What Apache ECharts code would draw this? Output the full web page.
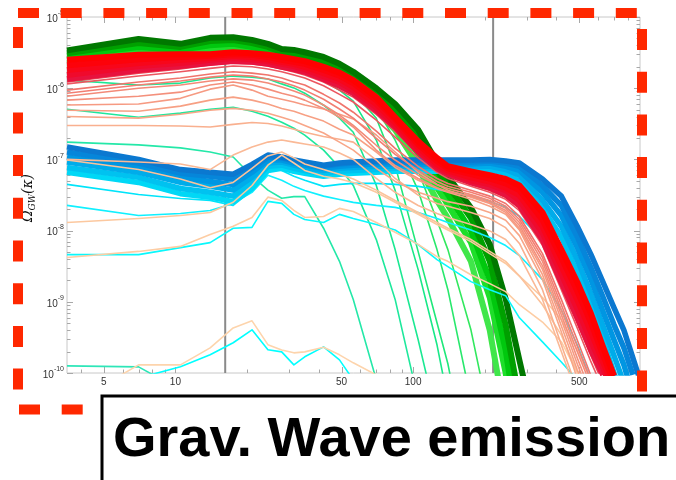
<!DOCTYPE html>
<html>
<head>
<meta charset="utf-8">
<script src="https://cdn.jsdelivr.net/npm/echarts@6/dist/echarts.min.js"></script>
<style>
  html, body { margin: 0; padding: 0; background: #fff; }
  #chart { width: 676px; height: 480px; }
</style>
</head>
<body>
<div id="chart"></div>
<script>
// Wavenumber grid shared by every spectrum
const K = [3.5, 7, 10.5, 14, 17.5, 21, 24.5, 28, 31.5, 35, 42, 49, 56, 70, 84, 105, 126, 140, 175, 210, 245, 280, 350, 420, 490, 560, 630, 700, 770, 840, 900];

// Axis ranges and ticks
const X_MIN = 3.5, X_MAX = 900, Y_MIN = 1e-10, Y_MAX = 1e-5;
const xMajorTicks = [5, 10, 50, 100, 500];
const xTickLabels = ['5', '10', '50', '100', '500'];
const xMinorTicks = [4, 6, 7, 8, 9, 20, 30, 40, 60, 70, 80, 90, 200, 300, 400, 600, 700, 800];
const yMajorTicks = [1e-10, 1e-9, 1e-8, 1e-7, 1e-6, 1e-5];
const yTickExponents = ['-10', '-9', '-8', '-7', '-6', '-5'];
const yMinorMantissas = [2, 3, 4, 5, 6, 7, 8, 9];
const markerK = [16.2, 217];

// Field A (green family): early spectra
const g1 = [1.26e-10, 1.22e-10, 5.8e-11];
const g2 = [1.75e-7, 1.6e-7, 1.45e-7, 1.27e-7, 1.08e-7, 5.8e-8, 3.7e-8, 2.85e-8, 3.0e-8, 3.0e-8, 1.08e-8, 3.7e-9, 1.08e-9, 8e-11];
const gA = [5.07e-7, 3.91e-7, 4.46e-7, 5.07e-7, 5.41e-7, 4.75e-7, 4.04e-7, 3.33e-7, 2.74e-7, 2.19e-7, 1.35e-7, 7.72e-8, 4.31e-8, 7.48e-9, 1.08e-9, 4.2e-11];
const gB = [1.3e-6, 1.11e-6, 1.18e-6, 1.39e-6, 1.48e-6, 1.43e-6, 1.35e-6, 1.15e-6, 1.01e-6, 8.51e-7, 5.77e-7, 3.79e-7, 2.41e-7, 4.31e-8, 5.41e-9, 2.93e-10, 2.2e-11];
const gC = [1.8e-6, 2.05e-6, 2.19e-6, 2.49e-6, 2.66e-6, 2.57e-6, 2.41e-6, 2.12e-6, 1.92e-6, 1.69e-6, 1.3e-6, 9.37e-7, 6.57e-7, 1.87e-7, 3.67e-8, 2.83e-9, 2.49e-10, 4.2e-11];
const gD = [1.69e-6, 2.19e-6, 2.33e-6, 2.66e-6, 2.83e-6, 2.74e-6, 2.66e-6, 2.33e-6, 2.19e-6, 1.98e-6, 1.58e-6, 1.22e-6, 8.79e-7, 3.79e-7, 8.24e-8, 5.07e-9, 5.07e-10, 1.35e-10, 3.1e-12];
const gE = [1.92e-6, 2.49e-6, 2.66e-6, 3.02e-6, 3.22e-6, 3.02e-6, 2.83e-6, 2.49e-6, 2.33e-6, 2.19e-6, 1.8e-6, 1.43e-6, 1.08e-6, 5.24e-7, 1.87e-7, 3.67e-8, 5.41e-9, 1.48e-9, 4.2e-11];
const gF = [2.05e-6, 2.66e-6, 2.83e-6, 3.22e-6, 3.44e-6, 3.22e-6, 3.02e-6, 2.74e-6, 2.57e-6, 2.41e-6, 2.05e-6, 1.69e-6, 1.3e-6, 6.78e-7, 3.02e-7, 7.01e-8, 1.39e-8, 5.41e-9, 4.04e-10, 2.2e-11];
// Field A: late spectra (saturated band)
const GB5 = [2.25e-6, 2.9e-6, 2.75e-6, 3.1e-6, 3.2e-6, 2.9e-6, 2.55e-6, 2.2e-6, 2.05e-6, 1.9e-6, 1.6e-6, 1.2e-6, 8.8e-7, 4.9e-7, 2.6e-7, 8.2e-8, 2.65e-8, 1.5e-8, 3.7e-9, 4.0e-10, 2.2e-11];
const GB4 = [2.55e-6, 3.3e-6, 3.1e-6, 3.55e-6, 3.65e-6, 3.3e-6, 2.9e-6, 2.5e-6, 2.35e-6, 2.2e-6, 1.85e-6, 1.45e-6, 1.1e-6, 6.2e-7, 3.3e-7, 1.2e-7, 4.0e-8, 2.3e-8, 6.8e-9, 1.15e-9, 1.0e-10, 4.4e-12];
const GB3 = [2.85e-6, 3.8e-6, 3.45e-6, 4.0e-6, 4.2e-6, 3.8e-6, 3.3e-6, 2.85e-6, 2.65e-6, 2.5e-6, 2.1e-6, 1.7e-6, 1.2e-6, 7.2e-7, 4.0e-7, 1.55e-7, 5.4e-8, 3.2e-8, 1.0e-8, 2.05e-9, 2.1e-10, 1.15e-11];
const GB2 = [3.1e-6, 4.3e-6, 3.8e-6, 4.6e-6, 4.75e-6, 4.3e-6, 3.8e-6, 3.2e-6, 3.0e-6, 2.85e-6, 2.4e-6, 1.9e-6, 1.45e-6, 8.5e-7, 4.9e-7, 2.0e-7, 7.0e-8, 4.3e-8, 1.5e-8, 3.7e-9, 4.7e-10, 4.2e-11];
const GB1 = [3.4e-6, 4.9e-6, 4.2e-6, 5.1e-6, 5.2e-6, 4.75e-6, 4.2e-6, 3.55e-6, 3.45e-6, 3.2e-6, 2.75e-6, 2.2e-6, 1.7e-6, 1.0e-6, 6.0e-7, 2.6e-7, 9.1e-8, 5.8e-8, 2.1e-8, 6.4e-9, 1.1e-9, 1.5e-10, 6e-12];

// Field B (blue family): early spectra
const c3 = [3e-11, 8.5e-11, 1.22e-10, 1.8e-10, 2.66e-10, 4.04e-10, 2.12e-10, 1.98e-10, 1.3e-10, 1.69e-10, 2.33e-10, 1.53e-10, 8.0e-11];
const c2 = [4.6e-9, 4.6e-9, 5.77e-9, 6.78e-9, 1.08e-8, 1.11e-8, 2.57e-8, 2.41e-8, 1.69e-8, 1.43e-8, 1.3e-8, 1.69e-8, 1.48e-8, 1.22e-8, 1.02e-8, 6.36e-9, 3.91e-9, 3.12e-9, 1.92e-9, 1.48e-9, 1.22e-9, 5.96e-10, 2.74e-10, 1.43e-10, 8.0e-11];
const c1 = [2.26e-8, 1.63e-8, 1.74e-8, 1.92e-8, 2.41e-8, 3.44e-8, 6.0e-8, 5.1e-8, 4.18e-8, 3.67e-8, 3.05e-8, 2.74e-8, 2.49e-8, 2.26e-8, 2.12e-8, 1.8e-8, 1.48e-8, 1.3e-8, 1.02e-8, 7.98e-9, 6.16e-9, 4.46e-9, 2.05e-9, 7.72e-10, 2.49e-10, 8.0e-11];
const c4 = [4.46e-8, 3.22e-8, 2.83e-8, 2.66e-8, 2.26e-8, 3.67e-8, 7.5e-8, 7.0e-8, 5.8e-8, 5.1e-8, 4.18e-8, 4.46e-8, 4.6e-8, 4.6e-8, 4.46e-8, 4.18e-8, 3.79e-8, 3.55e-8, 3.05e-8, 2.57e-8, 2.12e-8, 1.58e-8, 7.48e-9, 3.02e-9, 1.08e-9, 3.44e-10, 1.0e-10, 4.2e-11];
// Field B: late spectra (plateau band)
const BB6 = [6.6e-8, 4.75e-8, 3.3e-8, 2.95e-8, 2.55e-8, 3.9e-8, 7.0e-8, 7.5e-8, 6.8e-8, 6.4e-8, 5.8e-8, 6.2e-8, 6.4e-8, 6.6e-8, 6.8e-8, 6.8e-8, 6.8e-8, 6.8e-8, 6.6e-8, 6.2e-8, 5.1e-8, 3.7e-8, 1.4e-8, 5.1e-9, 1.5e-9, 6.0e-10, 2.1e-10, 8.0e-11];
const BB5 = [7.7e-8, 5.6e-8, 3.9e-8, 3.45e-8, 3.05e-8, 4.75e-8, 8.0e-8, 8.3e-8, 7.5e-8, 7.0e-8, 6.4e-8, 6.8e-8, 7.0e-8, 7.2e-8, 7.5e-8, 7.5e-8, 7.5e-8, 7.5e-8, 7.5e-8, 7.2e-8, 6.4e-8, 4.9e-8, 2.05e-8, 8.2e-9, 2.6e-9, 8.5e-10, 2.9e-10, 1.0e-10, 4.0e-11];
const BB4 = [9.2e-8, 6.6e-8, 4.75e-8, 4.2e-8, 3.7e-8, 5.6e-8, 8.9e-8, 9.2e-8, 8.3e-8, 7.7e-8, 7.0e-8, 7.5e-8, 7.7e-8, 8.0e-8, 8.0e-8, 8.0e-8, 8.0e-8, 8.0e-8, 8.0e-8, 8.0e-8, 7.2e-8, 6.0e-8, 2.65e-8, 1.15e-8, 3.9e-9, 1.3e-9, 4.5e-10, 1.75e-10, 7.2e-11];
const BB3 = [1.08e-7, 7.7e-8, 5.6e-8, 4.9e-8, 4.45e-8, 6.6e-8, 9.8e-8, 9.8e-8, 8.9e-8, 8.3e-8, 7.5e-8, 8.0e-8, 8.3e-8, 8.6e-8, 8.6e-8, 8.6e-8, 8.6e-8, 8.6e-8, 8.6e-8, 8.9e-8, 8.0e-8, 7.0e-8, 3.45e-8, 1.63e-8, 5.8e-9, 2.05e-9, 7.2e-10, 2.9e-10, 1.3e-10, 4.9e-11];
const BB2 = [1.27e-7, 8.9e-8, 6.4e-8, 5.8e-8, 5.3e-8, 7.5e-8, 1.08e-7, 1.05e-7, 9.5e-8, 8.9e-8, 8.0e-8, 8.6e-8, 8.9e-8, 9.2e-8, 9.2e-8, 9.2e-8, 9.2e-8, 9.2e-8, 9.2e-8, 9.5e-8, 8.9e-8, 8.0e-8, 4.3e-8, 2.25e-8, 8.2e-9, 3.0e-9, 1.15e-9, 4.75e-10, 2.25e-10, 9.4e-11];
const BB1 = [1.5e-7, 1.0e-7, 7.2e-8, 6.6e-8, 6.2e-8, 8.5e-8, 1.15e-7, 1.08e-7, 9.8e-8, 9.2e-8, 8.3e-8, 8.9e-8, 9.2e-8, 9.5e-8, 9.8e-8, 9.8e-8, 9.8e-8, 9.8e-8, 9.8e-8, 1.0e-7, 9.5e-8, 8.9e-8, 5.3e-8, 3.05e-8, 1.15e-8, 4.6e-9, 1.86e-9, 8.2e-10, 4.0e-10, 1.63e-10, 8e-11];

// Field C (red family): early spectra
const p4 = [3.4e-11, 1.3e-10, 1.3e-10, 2.25e-10, 4.3e-10, 5.4e-10, 2.5e-10, 2.1e-10, 1.92e-10, 1.98e-10, 2.3e-10, 1.8e-10, 1.39e-10, 9.4e-11, 4.2e-11];
const p3 = [4.2e-9, 5.1e-9, 6.0e-9, 8.8e-9, 1.15e-8, 1.53e-8, 2.95e-8, 2.65e-8, 1.92e-8, 1.53e-8, 1.58e-8, 2.05e-8, 1.86e-8, 1.3e-8, 9.5e-9, 6.4e-9, 4.3e-9, 3.7e-9, 2.4e-9, 1.8e-9, 1.39e-9, 9.1e-10, 5.2e-10, 2.75e-10, 1.03e-10, 4.2e-11];
const p2 = [1.3e-8, 1.48e-8, 1.63e-8, 1.8e-8, 2.5e-8, 4.3e-8, 8.3e-8, 1.15e-7, 8.9e-8, 7.0e-8, 5.8e-8, 5.3e-8, 4.75e-8, 3.45e-8, 2.5e-8, 1.7e-8, 1.22e-8, 1.02e-8, 7.0e-9, 4.75e-9, 3.45e-9, 2.3e-9, 1.15e-9, 5.6e-10, 2.1e-10, 8.0e-11];
const s8 = [9.8e-8, 7.2e-8, 5.3e-8, 4.0e-8, 4.75e-8, 7.5e-8, 1.12e-7, 1.27e-7, 1.05e-7, 8.6e-8, 7.2e-8, 6.2e-8, 5.3e-8, 3.7e-8, 2.65e-8, 1.8e-8, 1.3e-8, 1.08e-8, 7.5e-9, 5.1e-9, 3.7e-9, 2.3e-9, 9.1e-10, 3.4e-10, 1.03e-10, 4.2e-11];
const s7 = [1.0e-7, 9.2e-8, 8.6e-8, 7.2e-8, 1.15e-7, 1.49e-7, 1.75e-7, 1.87e-7, 1.75e-7, 1.65e-7, 1.49e-7, 1.23e-7, 1.0e-7, 5.4e-8, 3.45e-8, 2.25e-8, 1.74e-8, 1.53e-8, 1.22e-8, 9.9e-9, 7.5e-9, 4.45e-9, 1.08e-9, 2.0e-10, 4.9e-11];
const s6 = [3.0e-7, 3.0e-7, 2.95e-7, 2.85e-7, 3.1e-7, 3.3e-7, 3.2e-7, 2.95e-7, 2.65e-7, 2.4e-7, 2.1e-7, 1.92e-7, 1.75e-7, 9.8e-8, 5.4e-8, 3.15e-8, 2.4e-8, 2.2e-8, 1.8e-8, 1.48e-8, 1.1e-8, 6.6e-9, 1.48e-9, 2.5e-10, 5.8e-11];
const s5 = [4.0e-7, 3.8e-7, 4.3e-7, 4.9e-7, 5.2e-7, 4.9e-7, 4.45e-7, 3.9e-7, 3.45e-7, 3.0e-7, 2.35e-7, 1.75e-7, 1.35e-7, 7.5e-8, 4.9e-8, 3.45e-8, 2.85e-8, 2.55e-8, 2.2e-8, 1.8e-8, 1.4e-8, 8.5e-9, 2.05e-9, 3.8e-10, 8.5e-11];
const f4 = [4.9e-7, 4.75e-7, 5.6e-7, 6.8e-7, 7.5e-7, 6.8e-7, 6.0e-7, 5.2e-7, 4.75e-7, 4.2e-7, 3.45e-7, 2.65e-7, 2.2e-7, 1.27e-7, 7.7e-8, 5.1e-8, 3.9e-8, 3.45e-8, 2.75e-8, 2.2e-8, 1.7e-8, 1.02e-8, 2.4e-9, 4.6e-10, 1.11e-10, 4e-11];
const s4 = [5.8e-7, 6.0e-7, 7.2e-7, 9.7e-7, 1.11e-6, 9.4e-7, 7.7e-7, 7.0e-7, 6.4e-7, 5.8e-7, 5.1e-7, 4.3e-7, 3.7e-7, 2.2e-7, 1.27e-7, 6.6e-8, 4.45e-8, 3.7e-8, 2.95e-8, 2.4e-8, 1.8e-8, 1.08e-8, 2.85e-9, 5.6e-10, 1.35e-10, 4.2e-11];
const f3 = [6.8e-7, 7.7e-7, 8.8e-7, 1.11e-6, 1.22e-6, 1.11e-6, 9.7e-7, 8.5e-7, 7.7e-7, 6.8e-7, 5.2e-7, 3.9e-7, 2.85e-7, 1.35e-7, 8.2e-8, 5.4e-8, 4.0e-8, 3.55e-8, 3.05e-8, 2.5e-8, 1.92e-8, 1.18e-8, 3.2e-9, 6.6e-10, 1.63e-10, 5.2e-11];
const s3 = [7.7e-7, 1.0e-6, 1.11e-6, 1.26e-6, 1.35e-6, 1.3e-6, 1.18e-6, 1.04e-6, 9.1e-7, 8.0e-7, 5.8e-7, 4.2e-7, 3.0e-7, 1.58e-7, 9.8e-8, 6.0e-8, 4.45e-8, 3.9e-8, 3.2e-8, 2.65e-8, 2.05e-8, 1.3e-8, 3.7e-9, 7.7e-10, 2.0e-10, 6.6e-11];
const f2 = [8.5e-7, 1.11e-6, 1.26e-6, 1.43e-6, 1.53e-6, 1.48e-6, 1.35e-6, 1.22e-6, 1.08e-6, 9.4e-7, 7.0e-7, 5.1e-7, 3.8e-7, 1.98e-7, 1.18e-7, 7.0e-8, 4.9e-8, 4.2e-8, 3.45e-8, 2.85e-8, 2.2e-8, 1.43e-8, 4.2e-9, 9.1e-10, 2.4e-10, 7.7e-11];
const s2 = [9.4e-7, 1.22e-6, 1.39e-6, 1.58e-6, 1.7e-6, 1.63e-6, 1.53e-6, 1.39e-6, 1.22e-6, 1.11e-6, 8.2e-7, 6.2e-7, 4.6e-7, 2.5e-7, 1.43e-7, 8.0e-8, 5.4e-8, 4.6e-8, 3.7e-8, 3.05e-8, 2.4e-8, 1.58e-8, 4.75e-9, 1.08e-9, 2.9e-10, 9.1e-11];
const s1 = [1.15e-6, 1.48e-6, 1.7e-6, 1.9e-6, 2.05e-6, 2.0e-6, 1.86e-6, 1.7e-6, 1.53e-6, 1.39e-6, 1.08e-6, 8.2e-7, 6.4e-7, 3.55e-7, 2.05e-7, 1.05e-7, 6.6e-8, 5.4e-8, 4.2e-8, 3.45e-8, 2.75e-8, 1.9e-8, 6.2e-9, 1.48e-9, 4.3e-10, 1.43e-10, 5.8e-11];
const f1 = [1.22e-6, 1.63e-6, 1.86e-6, 2.12e-6, 2.26e-6, 2.19e-6, 2.05e-6, 1.86e-6, 1.69e-6, 1.53e-6, 1.22e-6, 9.4e-7, 7.5e-7, 4.3e-7, 2.5e-7, 1.18e-7, 7.0e-8, 5.8e-8, 4.45e-8, 3.67e-8, 2.93e-8, 2.12e-8, 6.8e-9, 1.69e-9, 5.1e-10, 1.74e-10, 7.0e-11];
// Field C: late spectra (red band)
const RB5 = [1.35e-6, 1.8e-6, 2.05e-6, 2.25e-6, 2.4e-6, 2.35e-6, 2.2e-6, 2.0e-6, 1.85e-6, 1.7e-6, 1.35e-6, 1.08e-6, 8.5e-7, 4.9e-7, 2.85e-7, 1.27e-7, 7.5e-8, 6.2e-8, 4.75e-8, 4.0e-8, 3.2e-8, 2.25e-8, 7.5e-9, 1.9e-9, 6.0e-10, 2.1e-10, 9.4e-11];
const RB4 = [1.53e-6, 2.05e-6, 2.25e-6, 2.5e-6, 2.65e-6, 2.55e-6, 2.4e-6, 2.2e-6, 2.05e-6, 1.85e-6, 1.48e-6, 1.22e-6, 9.4e-7, 5.4e-7, 3.0e-7, 1.35e-7, 8.0e-8, 6.6e-8, 5.1e-8, 4.45e-8, 3.7e-8, 2.65e-8, 9.4e-9, 2.5e-9, 8.0e-10, 2.8e-10, 1.18e-10, 4.75e-11];
const RB3 = [1.8e-6, 2.25e-6, 2.5e-6, 2.65e-6, 2.85e-6, 2.75e-6, 2.55e-6, 2.35e-6, 2.2e-6, 2.0e-6, 1.63e-6, 1.35e-6, 1.04e-6, 6.0e-7, 3.3e-7, 1.48e-7, 8.6e-8, 7.0e-8, 5.6e-8, 4.9e-8, 4.0e-8, 3.15e-8, 1.15e-8, 3.2e-9, 1.08e-9, 3.8e-10, 1.43e-10, 5.8e-11];
const RB2 = [2.1e-6, 2.55e-6, 2.75e-6, 2.85e-6, 3.0e-6, 2.95e-6, 2.75e-6, 2.5e-6, 2.35e-6, 2.2e-6, 1.8e-6, 1.5e-6, 1.18e-6, 6.8e-7, 3.7e-7, 1.63e-7, 9.5e-8, 7.5e-8, 6.2e-8, 5.4e-8, 4.6e-8, 3.7e-8, 1.43e-8, 4.2e-9, 1.43e-9, 5.1e-10, 1.8e-10, 7.2e-11];
const RB1 = [2.5e-6, 2.95e-6, 3.0e-6, 3.0e-6, 3.2e-6, 3.1e-6, 2.95e-6, 2.75e-6, 2.55e-6, 2.4e-6, 2.0e-6, 1.65e-6, 1.3e-6, 7.5e-7, 3.9e-7, 1.8e-7, 1.05e-7, 8.0e-8, 6.8e-8, 6.0e-8, 5.3e-8, 4.3e-8, 1.8e-8, 5.4e-9, 1.9e-9, 6.8e-10, 2.3e-10, 9.1e-11];

// Drawing order: earliest first, latest on top
const greenEarly = [g1, g2, gA, gB, gC, gD, gE, gF];
const greenEarlyColors = ['#2de6b8', '#24e8a8', '#1ee89c', '#1be892', '#19e888', '#1fe87a', '#28e86c', '#32e85e'];
const greenLate = [GB5, GB4, GB3, GB2, GB1];
const greenLateColors = ['#40e64a', '#1ede2a', '#00c80e', '#00a000', '#007800'];
const blueEarly = [c3, c2, c1, c4];
const blueEarlyColors = ['#00ffff', '#0af8fc', '#10f0ff', '#00e4fa'];
const blueLate = [BB6, BB5, BB4, BB3, BB2, BB1];
const blueLateColors = ['#00d8f6', '#00c2f0', '#00acea', '#0096e2', '#0686da', '#0b78d0'];
const redEarly = [p4, p3, p2, s8, s7, s6, s5, f4, s4, f3, s3, f2, s2, s1, f1];
const redEarlyColors = ['#fdd4ac', '#fdcda4', '#fcc89f', '#fbc29b', '#fab996', '#f9b08f', '#f8a688', '#f7a084',
                        '#f69a82', '#f4907c', '#f38a78', '#f27e72', '#f0746c', '#ec5660', '#ea4656'];
const redLate = [RB5, RB4, RB3, RB2, RB1];
const redLateColors = ['#e8123e', '#f00a2c', '#f8061a', '#fd020a', '#ff0000'];

const LABEL_FONT = '"Liberation Sans", Arial, sans-serif';

function spectrum(values, color, width) {
  return {
    type: 'line',
    data: values.map((v, i) => [K[i], v]),
    symbol: 'none',
    showSymbol: false,
    smooth: false,
    silent: true,
    lineStyle: { color: color, width: width, join: 'round' },
    emphasis: { disabled: true }
  };
}

function family(list, colors, width) {
  return list.map((vals, i) => spectrum(vals, colors[i], width));
}

function markerSeries(k) {
  return {
    type: 'custom',
    silent: true,
    clip: false,
    data: [[k, Y_MIN]],
    encode: { x: 0, y: 1 },
    renderItem: (params, api) => {
      const b = api.coord([api.value(0), Y_MIN]);
      const t = api.coord([api.value(0), Y_MAX]);
      return { type: 'line', shape: { x1: b[0], y1: b[1], x2: t[0], y2: t[1] },
               style: { stroke: '#8a8a8a', lineWidth: 2 } };
    }
  };
}

// frame ticks (inward, on all four sides)
const xTickData = xMajorTicks.map(k => [k, Y_MIN, 1]).concat(xMinorTicks.map(k => [k, Y_MIN, 0]));
const yTickData = [];
yMajorTicks.forEach(v => yTickData.push([X_MIN, v, 1]));
yMajorTicks.slice(0, 5).forEach(d => yMinorMantissas.forEach(m => yTickData.push([X_MIN, d * m, 0])));

const tickColor = '#a8a8a8';

const series = [].concat(
  [markerSeries(markerK[1])],
  family(greenEarly, greenEarlyColors, 1.6),
  family(greenLate, greenLateColors, 6),
  family(blueEarly, blueEarlyColors, 1.6),
  family(blueLate, blueLateColors, 5.5),
  family(redEarly, redEarlyColors, 1.6),
  family(redLate, redLateColors, 6),
  [markerSeries(markerK[0])],
  [{
    type: 'custom', silent: true, clip: false, data: xTickData, encode: { x: 0, y: 1 },
    renderItem: (params, api) => {
      const len = api.value(2) ? 6 : 3.5;
      const b = api.coord([api.value(0), Y_MIN]);
      const t = api.coord([api.value(0), Y_MAX]);
      const x = Math.round(b[0]) + 0.5;
      return { type: 'group', children: [
        { type: 'line', shape: { x1: x, y1: b[1], x2: x, y2: b[1] - len }, style: { stroke: tickColor, lineWidth: 1 } },
        { type: 'line', shape: { x1: x, y1: t[1], x2: x, y2: t[1] + len }, style: { stroke: tickColor, lineWidth: 1 } }
      ] };
    }
  }, {
    type: 'custom', silent: true, clip: false, data: yTickData, encode: { x: 0, y: 1 },
    renderItem: (params, api) => {
      const len = api.value(2) ? 6 : 3.5;
      const l = api.coord([X_MIN, api.value(1)]);
      const r = api.coord([X_MAX, api.value(1)]);
      const y = Math.round(l[1]) + 0.5;
      return { type: 'group', children: [
        { type: 'line', shape: { x1: l[0], y1: y, x2: l[0] + len, y2: y }, style: { stroke: tickColor, lineWidth: 1 } },
        { type: 'line', shape: { x1: r[0], y1: y, x2: r[0] - len, y2: y }, style: { stroke: tickColor, lineWidth: 1 } }
      ] };
    }
  }, {
    type: 'custom', silent: true, clip: false,
    data: xMajorTicks.map((k, i) => [k, Y_MIN, i]), encode: { x: 0, y: 1 },
    renderItem: (params, api) => {
      const p = api.coord([api.value(0), Y_MIN]);
      return { type: 'text', x: p[0], y: p[1] + 4,
        style: { text: xTickLabels[api.value(2)], font: '10px ' + LABEL_FONT, fill: '#333',
                 align: 'center', verticalAlign: 'top', textAlign: 'center', textVerticalAlign: 'top' } };
    }
  }, {
    type: 'custom', silent: true, clip: false,
    data: yMajorTicks.map((v, i) => [X_MIN, v, i]), encode: { x: 0, y: 1 },
    renderItem: (params, api) => {
      const p = api.coord([X_MIN, api.value(1)]);
      return { type: 'text', x: p[0] - 3, y: p[1],
        style: { text: '{b|10}{s|' + yTickExponents[api.value(2)] + '}',
                 rich: { b: { font: '10px ' + LABEL_FONT, fill: '#333', lineHeight: 14, verticalAlign: 'bottom' },
                         s: { font: '7px ' + LABEL_FONT, fill: '#333', verticalAlign: 'top' } },
                 align: 'right', verticalAlign: 'middle', textAlign: 'right', textVerticalAlign: 'middle' } };
    }
  }]
);

const chart = echarts.init(document.getElementById('chart'), null, { renderer: 'canvas' });
chart.setOption({
  animation: false,
  backgroundColor: '#ffffff',
  grid: { left: 67, right: 36, top: 17, bottom: 107, show: true, borderColor: '#c8c8c8', borderWidth: 1, containLabel: false },
  xAxis: { type: 'log', logBase: 10, min: X_MIN, max: X_MAX,
           axisLine: { show: false }, axisTick: { show: false }, axisLabel: { show: false }, splitLine: { show: false } },
  yAxis: { type: 'log', logBase: 10, min: Y_MIN, max: Y_MAX,
           axisLine: { show: false }, axisTick: { show: false }, axisLabel: { show: false }, splitLine: { show: false } },
  series: series,
  graphic: [
    // axis title
    { type: 'text', x: 28, y: 198, rotation: Math.PI / 2, z: 100,
      style: { text: '{o|Ω}{s|GW}{o|(κ)}',
               rich: { o: { font: 'italic 14px "DejaVu Serif", serif', fill: '#111', lineHeight: 18, verticalAlign: 'middle' },
                       s: { font: 'italic 9px "DejaVu Serif", serif', fill: '#111', verticalAlign: 'bottom' } },
               align: 'center', verticalAlign: 'middle' } },
    // dashed red frame
    { type: 'line', z: 100, shape: { x1: 18, y1: 13, x2: 640, y2: 13 }, style: { stroke: '#ff2800', lineWidth: 10, lineDash: [21, 21.7] } },
    { type: 'line', z: 100, shape: { x1: 642, y1: 29, x2: 642, y2: 396 }, style: { stroke: '#ff2800', lineWidth: 10, lineDash: [21, 21.7] } },
    { type: 'line', z: 100, shape: { x1: 18, y1: 27, x2: 18, y2: 396 }, style: { stroke: '#ff2800', lineWidth: 10, lineDash: [21, 21.7] } },
    { type: 'line', z: 100, shape: { x1: 19, y1: 409.5, x2: 100, y2: 409.5 }, style: { stroke: '#ff2800', lineWidth: 10, lineDash: [21, 21.7] } },
    // caption box
    { type: 'rect', z: 110, shape: { x: 102, y: 396, width: 600, height: 100 },
      style: { fill: '#ffffff', stroke: '#000000', lineWidth: 3 } },
    { type: 'text', z: 111, x: 113, y: 441,
      style: { text: 'Grav. Wave emission', font: 'bold 56px "Liberation Sans", Arial, sans-serif', fill: '#000',
               align: 'left', verticalAlign: 'middle' } }
  ]
});
</script>
</body>
</html>
